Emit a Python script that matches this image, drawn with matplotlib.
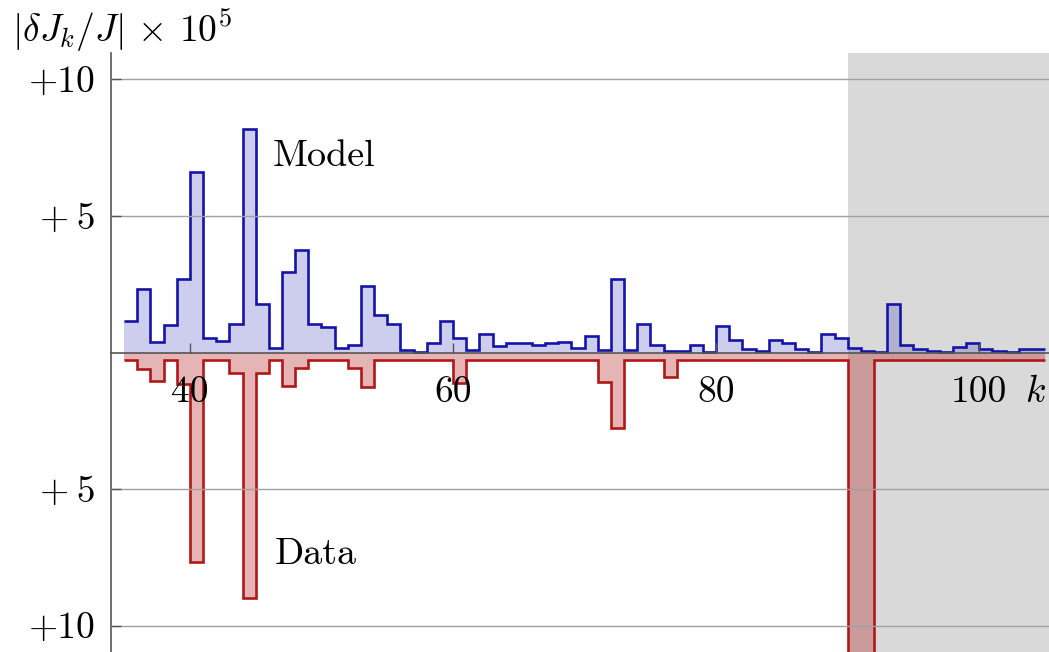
import numpy as np
import matplotlib.pyplot as plt

plt.rcParams['mathtext.fontset'] = 'cm'
plt.rcParams['font.family'] = ['cmr10', 'DejaVu Serif']
plt.rcParams['axes.formatter.use_mathtext'] = True

# bin edges k = 35 ... 105 (unit width)
edges = np.arange(35, 106)

# |dJ_k / J| x 1e5, model prediction per bin
model = [1.17, 2.33, 0.39, 0.99, 2.71, 6.60, 0.54, 0.41, 1.05, 8.20,
         1.79, 0.17, 2.96, 3.74, 1.05, 0.93, 0.18, 0.27, 2.43, 1.38,
         1.04, 0.08, 0.03, 0.33, 1.17, 0.52, 0.08, 0.69, 0.22, 0.34,
         0.34, 0.26, 0.35, 0.40, 0.18, 0.60, 0.08, 2.70, 0.08, 1.06,
         0.28, 0.06, 0.06, 0.26, 0.02, 0.96, 0.46, 0.13, 0.07, 0.44,
         0.35, 0.11, 0.01, 0.69, 0.52, 0.15, 0.06, 0.01, 1.79, 0.28,
         0.11, 0.06, 0.02, 0.20, 0.33, 0.11, 0.06, 0.02, 0.12, 0.11]

# measured values, drawn downwards
data = [0.26, 0.62, 1.05, 0.26, 1.17, 7.69, 0.26, 0.26, 0.74, 9.00,
        0.74, 0.26, 1.23, 0.56, 0.26, 0.26, 0.26, 0.58, 1.27, 0.26,
        0.26, 0.26, 0.26, 0.26, 0.26, 1.11, 0.26, 0.26, 0.26, 0.26,
        0.26, 0.26, 0.26, 0.26, 0.26, 0.26, 1.07, 2.78, 0.26, 0.26,
        0.26, 0.90, 0.26, 0.26, 0.26, 0.26, 0.26, 0.26, 0.26, 0.26,
        0.26, 0.26, 0.26, 0.26, 0.26, 14.0, 14.0, 0.26, 0.26, 0.26,
        0.26, 0.26, 0.26, 0.26, 0.26, 0.26, 0.26, 0.26, 0.26, 0.26]

excluded_from = 90
yticks = [-10, -5, 5, 10]
ytick_labels = ['+10', '+\u20095', '+\u20095', '+10']
xticks = [40, 60, 80, 100]

W, H = 1049, 652
fig = plt.figure(figsize=(W / 100, H / 100), dpi=100)
ax = fig.add_axes([111 / W, 0, 1 - 111 / W, 1 - 53 / H])

# shaded range of k beyond the fit
ax.axvspan(excluded_from, 110, color='#d9d9d9', lw=0, zorder=0.5)

blue, red = '#1414a8', '#b01818'
m = np.array(model)
d = -np.array(data)
ax.stairs(m, edges, fill=True, color='#3a3ab8', alpha=0.25, lw=0, zorder=1)
ax.stairs(m, edges, baseline=None, color=blue, lw=1.9, zorder=2)
ax.stairs(d, edges, fill=True, color='#b01818', alpha=0.32, lw=0, zorder=1)
ax.stairs(d, edges, baseline=None, color=red, lw=1.9, zorder=2)

ax.set_xlim(34, 105.3)
ax.set_ylim(-10.97, 10.97)

ax.spines['top'].set_visible(False)
ax.spines['right'].set_visible(False)
ax.spines['left'].set_color('#555555')
ax.spines['left'].set_linewidth(1.2)
ax.spines['bottom'].set_position(('data', 0))
ax.spines['bottom'].set_color('#555555')
ax.spines['bottom'].set_linewidth(1.2)
ax.spines['bottom'].set_zorder(2.5)

ax.set_yticks(yticks)
ax.set_yticklabels(ytick_labels, family=['cmr10', 'DejaVu Serif'])
ax.set_xticks(xticks)
ax.set_xticklabels([str(t) for t in xticks])
ax.tick_params(axis='both', direction='in', length=7, width=1,
               color='#555555', labelsize=27)
ax.tick_params(axis='x', pad=17)
ax.tick_params(axis='y', pad=11)
ax.yaxis.grid(True, color='#a0a0a0', lw=1)
ax.set_axisbelow(False)
for gl in ax.yaxis.get_gridlines():
    gl.set_zorder(1.5)

ax.text(104.3, -1.45, r'$k$', fontsize=27, ha='center', va='center')
ax.text(46.3, 7.2, 'Model', fontsize=27.5, ha='left', va='center')
ax.text(46.45, -7.4, 'Data', fontsize=27.5, ha='left', va='center')

fig.text(12 / W, 1 - 30 / H, r'$|\delta J_k/J|\,\times\,10^5$',
         fontsize=27, ha='left', va='center')

fig.savefig('out.png', dpi=100)
